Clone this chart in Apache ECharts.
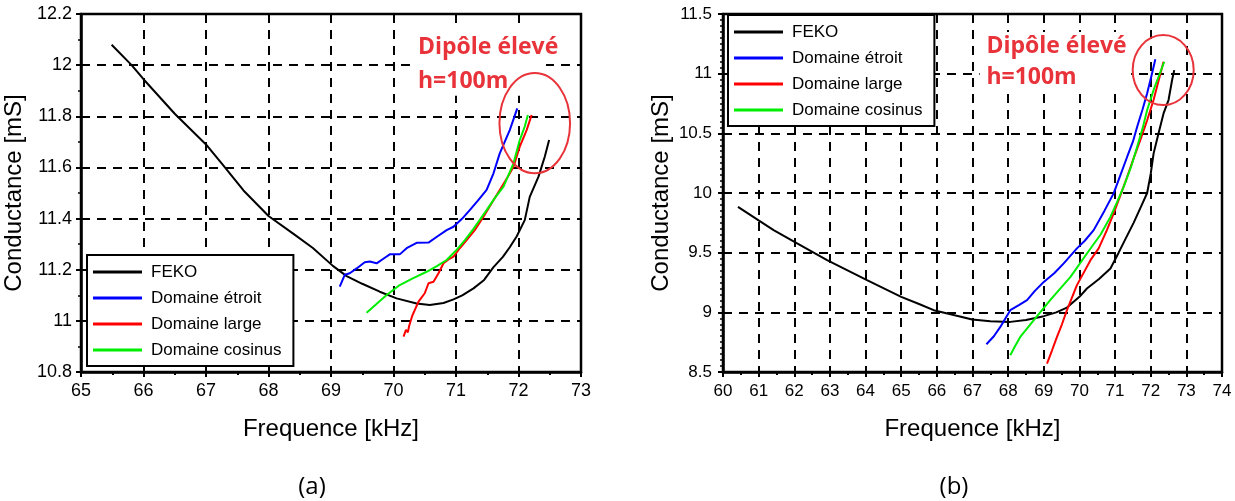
<!DOCTYPE html>
<html><head><meta charset="utf-8">
<script src="https://cdn.jsdelivr.net/npm/echarts@6/dist/echarts.min.js"></script>
<style>html,body{margin:0;padding:0;background:#fff}#c{width:1235px;height:501px}</style>
</head><body><div id="c"></div>
<script>
// ---- data ----
const seriesNames = ['FEKO', 'Domaine étroit', 'Domaine large', 'Domaine cosinus'];
const seriesColors = ['#000000', '#0000ff', '#ff0000', '#00ee00'];
const xTitle = 'Frequence [kHz]';
const yTitle = 'Conductance [mS]';
const panelLabels = ['(a)', '(b)'];
const annotLines = ['Dipôle élevé', 'h=100m'];

// panel (a)
const fekoA = [[65.49,12.08],[65.81,12.0],[66.0,11.945],[66.5,11.81],[67.0,11.69],[67.27,11.61],[67.6,11.51],[68.0,11.41],[68.4,11.34],[68.71,11.285],[69.03,11.215],[69.25,11.175],[69.5,11.145],[69.78,11.114],[70.05,11.088],[70.37,11.068],[70.58,11.062],[70.8,11.07],[70.96,11.084],[71.1,11.1],[71.28,11.127],[71.45,11.16],[71.6,11.21],[71.75,11.25],[71.86,11.288],[71.97,11.33],[72.1,11.394],[72.18,11.485],[72.32,11.564],[72.42,11.642],[72.49,11.707]];
const etroitA = [[69.14,11.134],[69.22,11.18],[69.3,11.186],[69.41,11.205],[69.54,11.229],[69.62,11.232],[69.73,11.225],[69.85,11.245],[69.94,11.26],[70.1,11.26],[70.21,11.284],[70.37,11.305],[70.56,11.306],[70.7,11.33],[70.85,11.355],[70.96,11.368],[71.1,11.4],[71.22,11.433],[71.35,11.47],[71.49,11.512],[71.6,11.577],[71.7,11.655],[71.86,11.746],[71.98,11.831]];
const largeA = [[70.16,10.938],[70.2,10.965],[70.23,10.955],[70.25,10.98],[70.3,11.02],[70.34,11.042],[70.4,11.075],[70.5,11.108],[70.56,11.147],[70.64,11.153],[70.72,11.186],[70.8,11.225],[70.88,11.24],[70.96,11.251],[71.06,11.284],[71.17,11.316],[71.3,11.355],[71.44,11.407],[71.57,11.46],[71.7,11.512],[71.82,11.56],[71.92,11.603],[72.02,11.681],[72.13,11.746],[72.21,11.805]];
const cosinusA = [[69.57,11.032],[69.7,11.06],[69.89,11.101],[70.1,11.14],[70.3,11.165],[70.53,11.192],[70.7,11.215],[70.85,11.238],[71.0,11.275],[71.14,11.315],[71.28,11.36],[71.49,11.433],[71.62,11.48],[71.76,11.525],[71.92,11.616],[72.02,11.707],[72.1,11.76],[72.15,11.805]];

// panel (b)
const fekoB = [[60.42,9.884],[61.0,9.77],[61.42,9.689],[62.08,9.577],[62.92,9.437],[64.04,9.27],[65.0,9.13],[65.5,9.07],[65.91,9.018],[66.5,8.975],[66.99,8.94],[67.5,8.925],[68.06,8.92],[68.5,8.935],[69.0,8.968],[69.35,9.0],[69.65,9.04],[70.0,9.13],[70.21,9.2],[70.55,9.28],[70.87,9.368],[71.1,9.5],[71.3,9.62],[71.52,9.75],[71.75,9.9],[71.9,10.0],[72.0,10.16],[72.08,10.33],[72.22,10.5],[72.36,10.667],[72.5,10.779],[72.6,10.947],[72.66,11.03]];
const etroitB = [[67.39,8.733],[67.6,8.8],[67.78,8.878],[68.06,9.018],[68.3,9.06],[68.53,9.102],[68.75,9.18],[69.0,9.255],[69.3,9.33],[69.56,9.41],[69.93,9.536],[70.15,9.6],[70.4,9.689],[70.7,9.85],[70.96,9.997],[71.15,10.15],[71.34,10.304],[71.5,10.43],[71.62,10.555],[71.77,10.7],[71.9,10.835],[72.02,10.98],[72.13,11.12]];
const largeB = [[69.09,8.571],[69.23,8.68],[69.37,8.794],[69.51,8.9],[69.65,9.018],[69.93,9.228],[70.31,9.437],[70.54,9.536],[70.77,9.689],[70.96,9.829],[71.15,9.98],[71.34,10.136],[71.52,10.29],[71.71,10.444],[71.9,10.61],[72.08,10.779],[72.22,10.94],[72.36,11.1]];
const cosinusB = [[68.06,8.641],[68.2,8.72],[68.34,8.794],[68.72,8.934],[69.18,9.102],[69.75,9.297],[70.21,9.493],[70.59,9.65],[70.87,9.8],[71.05,9.92],[71.24,10.052],[71.45,10.22],[71.62,10.388],[71.78,10.55],[71.9,10.695],[72.1,10.88],[72.38,11.1]];

// axes ranges
const xRangeA = [65, 73, 1], yRangeA = [10.8, 12.2, 0.2];
const xRangeB = [60, 74, 1], yRangeB = [8.5, 11.5, 0.5];

// annotation anchors in data coordinates
const annotA = {line1: [70.392, 12.071], line2: [70.392, 11.938], box: [[70.3, 12.15], [72.44, 11.88]], ellipse: [72.26, 11.773], r: [0.565, 0.196]};
const annotB = {line1: [67.39, 11.232], line2: [67.39, 10.972], box: [[67.2, 11.35], [71.45, 10.85]], ellipse: [72.35, 11.03], r: [0.856, 0.293]};

// ---- chart ----
const chart = echarts.init(document.getElementById('c'));
const FONT = '"Liberation Sans", Arial, sans-serif';
const dash = {type: [9, 7], color: '#000', width: 2};

function xAx(gi, r, fs, margin) {
  return {type: 'value', gridIndex: gi, min: r[0], max: r[1], interval: r[2],
    name: xTitle, nameLocation: 'middle', nameGap: 45,
    nameTextStyle: {fontSize: 24, fontFamily: FONT, color: '#000'},
    axisLine: {show: true, onZero: false, lineStyle: {color: '#000', width: 2.5}},
    axisTick: {show: true, inside: false, length: 5, lineStyle: {color: '#000', width: 2}},
    minorTick: {show: true, splitNumber: 2, length: 3, lineStyle: {color: '#000', width: 2}},
    axisLabel: {fontSize: fs, fontFamily: FONT, color: '#000', margin: margin},
    splitLine: {show: true, lineStyle: dash}};
}
function yAx(gi, r, fs, margin, gap, minorSplit) {
  return {type: 'value', gridIndex: gi, min: r[0], max: r[1], interval: r[2],
    name: yTitle, nameLocation: 'middle', nameGap: gap, nameRotate: 90,
    nameTextStyle: {fontSize: 24, fontFamily: FONT, color: '#000'},
    axisLine: {show: true, onZero: false, lineStyle: {color: '#000', width: 2.5}},
    axisTick: {show: true, inside: false, length: 5, lineStyle: {color: '#000', width: 2}},
    minorTick: {show: true, splitNumber: minorSplit, length: 3, lineStyle: {color: '#000', width: 1.5}},
    axisLabel: {fontSize: fs, fontFamily: FONT, color: '#000', margin: margin},
    splitLine: {show: true, lineStyle: dash}};
}
function legendAt(left, top) {
  return {orient: 'vertical', left: left, top: top, data: seriesNames,
    icon: 'rect', itemWidth: 49, itemHeight: 3, itemGap: 8,
    padding: [8, 12, 7, 6], borderColor: '#000', borderWidth: 2, backgroundColor: '#fff',
    selectedMode: false,
    textStyle: {fontSize: 17, fontFamily: FONT, color: '#000', lineHeight: 18, padding: [0, 0, 0, 4]}};
}
function mk(name, idx, data, gi) {
  return {type: 'line', name: name, xAxisIndex: gi, yAxisIndex: gi, data: data,
    showSymbol: false, symbol: 'none', smooth: false, animation: false,
    lineStyle: {color: seriesColors[idx], width: 2}, itemStyle: {color: seriesColors[idx]}, z: 3};
}

const option = {
  animation: false,
  backgroundColor: '#fff',
  grid: [
    {left: 81, right: 654, top: 14, bottom: 129, show: true, borderColor: '#000', borderWidth: 2.5, backgroundColor: 'transparent'},
    {left: 723, right: 13, top: 14, bottom: 129, show: true, borderColor: '#000', borderWidth: 2.5, backgroundColor: 'transparent'}
  ],
  xAxis: [xAx(0, xRangeA, 18, 10), xAx(1, xRangeB, 17, 11)],
  yAxis: [yAx(0, yRangeA, 18, 9, 55, 2), yAx(1, yRangeB, 17, 11, 50, 10)],
  legend: [legendAt(87, 255), legendAt(728, 15)],
  series: [
    mk(seriesNames[0], 0, fekoA, 0), mk(seriesNames[1], 1, etroitA, 0), mk(seriesNames[2], 2, largeA, 0), mk(seriesNames[3], 3, cosinusA, 0),
    mk(seriesNames[0], 0, fekoB, 1), mk(seriesNames[1], 1, etroitB, 1), mk(seriesNames[2], 2, largeB, 1), mk(seriesNames[3], 3, cosinusB, 1)
  ]
};
chart.setOption(option);

function annot(gi, a) {
  const f = {gridIndex: gi};
  const p1 = chart.convertToPixel(f, a.line1);
  const p2 = chart.convertToPixel(f, a.line2);
  const b0 = chart.convertToPixel(f, a.box[0]);
  const b1 = chart.convertToPixel(f, a.box[1]);
  const c = chart.convertToPixel(f, a.ellipse);
  const e = chart.convertToPixel(f, [a.ellipse[0] + a.r[0], a.ellipse[1] + a.r[1]]);
  const red = '#e8333a';
  const font = 'bold 23px "Open Sans", Lato, sans-serif';
  return [
    {type: 'rect', z: 8, shape: {x: b0[0], y: b0[1], width: b1[0] - b0[0], height: b1[1] - b0[1]}, style: {fill: '#fff', stroke: null}},
    {type: 'text', x: p1[0], y: p1[1], z: 10, style: {text: annotLines[0], fill: red, font: font, align: 'left', verticalAlign: 'middle'}},
    {type: 'text', x: p2[0], y: p2[1], z: 10, style: {text: annotLines[1], fill: red, font: font, align: 'left', verticalAlign: 'middle'}},
    {type: 'ellipse', z: 10, shape: {cx: c[0], cy: c[1], rx: Math.abs(e[0] - c[0]), ry: Math.abs(c[1] - e[1])}, style: {fill: 'none', stroke: red, lineWidth: 2}}
  ];
}
chart.setOption({graphic: [].concat(
  annot(0, annotA), annot(1, annotB),
  [{type: 'text', x: 312, y: 487, style: {text: panelLabels[0], fill: '#000', font: '24px "Open Sans", sans-serif', align: 'center', verticalAlign: 'middle'}},
   {type: 'text', x: 954, y: 487, style: {text: panelLabels[1], fill: '#000', font: '24px "Open Sans", sans-serif', align: 'center', verticalAlign: 'middle'}}]
)});
</script></body></html>
